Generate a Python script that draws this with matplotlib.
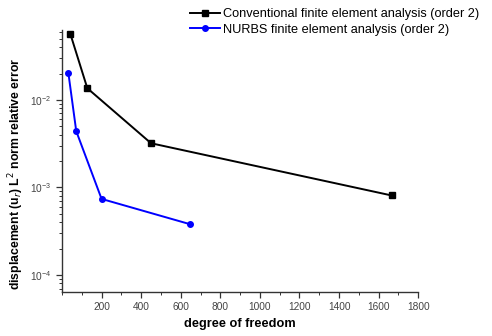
import matplotlib
matplotlib.use("Agg")
import matplotlib.pyplot as plt
from matplotlib.ticker import LogLocator, MultipleLocator, NullFormatter

plt.rcParams['font.family'] = ['Liberation Sans', 'DejaVu Sans']

conv_dof = [42, 128, 450, 1666]
conv_err = [0.057, 0.0136, 0.0032, 0.00081]
nurbs_dof = [32, 72, 200, 648]
nurbs_err = [0.0205, 0.0044, 0.00074, 0.00038]

fig = plt.figure(figsize=(4.92, 3.36), dpi=100)
ax = fig.add_axes([0.126, 0.131, 0.724, 0.78])

ax.plot(conv_dof, conv_err, color='black', marker='s', markersize=4, lw=1.4,
        label='Conventional finite element analysis (order 2)')
ax.plot(nurbs_dof, nurbs_err, color='blue', marker='o', markersize=4, lw=1.4,
        label='NURBS finite element analysis (order 2)')

ax.set_yscale('log')
ax.set_xlim(0, 1800)
ax.set_ylim(10**-4.194, 10**-1.2)
ax.xaxis.set_minor_locator(MultipleLocator(100))
ax.set_xticks([200, 400, 600, 800, 1000, 1200, 1400, 1600, 1800])
ax.yaxis.set_major_locator(LogLocator(base=10, numticks=10))
ax.yaxis.set_minor_locator(LogLocator(base=10, subs=range(2, 10), numticks=20))
ax.yaxis.set_minor_formatter(NullFormatter())

for s in ['top', 'right']:
    ax.spines[s].set_visible(False)
for s in ['left', 'bottom']:
    ax.spines[s].set_linewidth(1.0)
    ax.spines[s].set_color('#333333')

ax.tick_params(axis='both', which='major', direction='out', length=4, width=0.9,
               labelsize=7.3, labelcolor='#444444', color='#333333')
ax.tick_params(axis='both', which='minor', direction='out', length=2.5, width=0.7,
               color='#333333')

ax.set_xlabel('degree of freedom', fontsize=9.2, fontweight='bold', labelpad=4)
ax.set_ylabel(r'displacement (u$_r$) L$^2$ norm relative error', fontsize=8.8,
              fontweight='bold')
ax.yaxis.set_label_coords(-0.10, 0.45)

leg = fig.legend(loc='upper left', bbox_to_anchor=(0.37, 1.0), frameon=False,
                 fontsize=9.2, handlelength=2.3, handletextpad=0.25, labelspacing=0.25,
                 borderaxespad=0.25)

fig.savefig('out.png', dpi=100)
